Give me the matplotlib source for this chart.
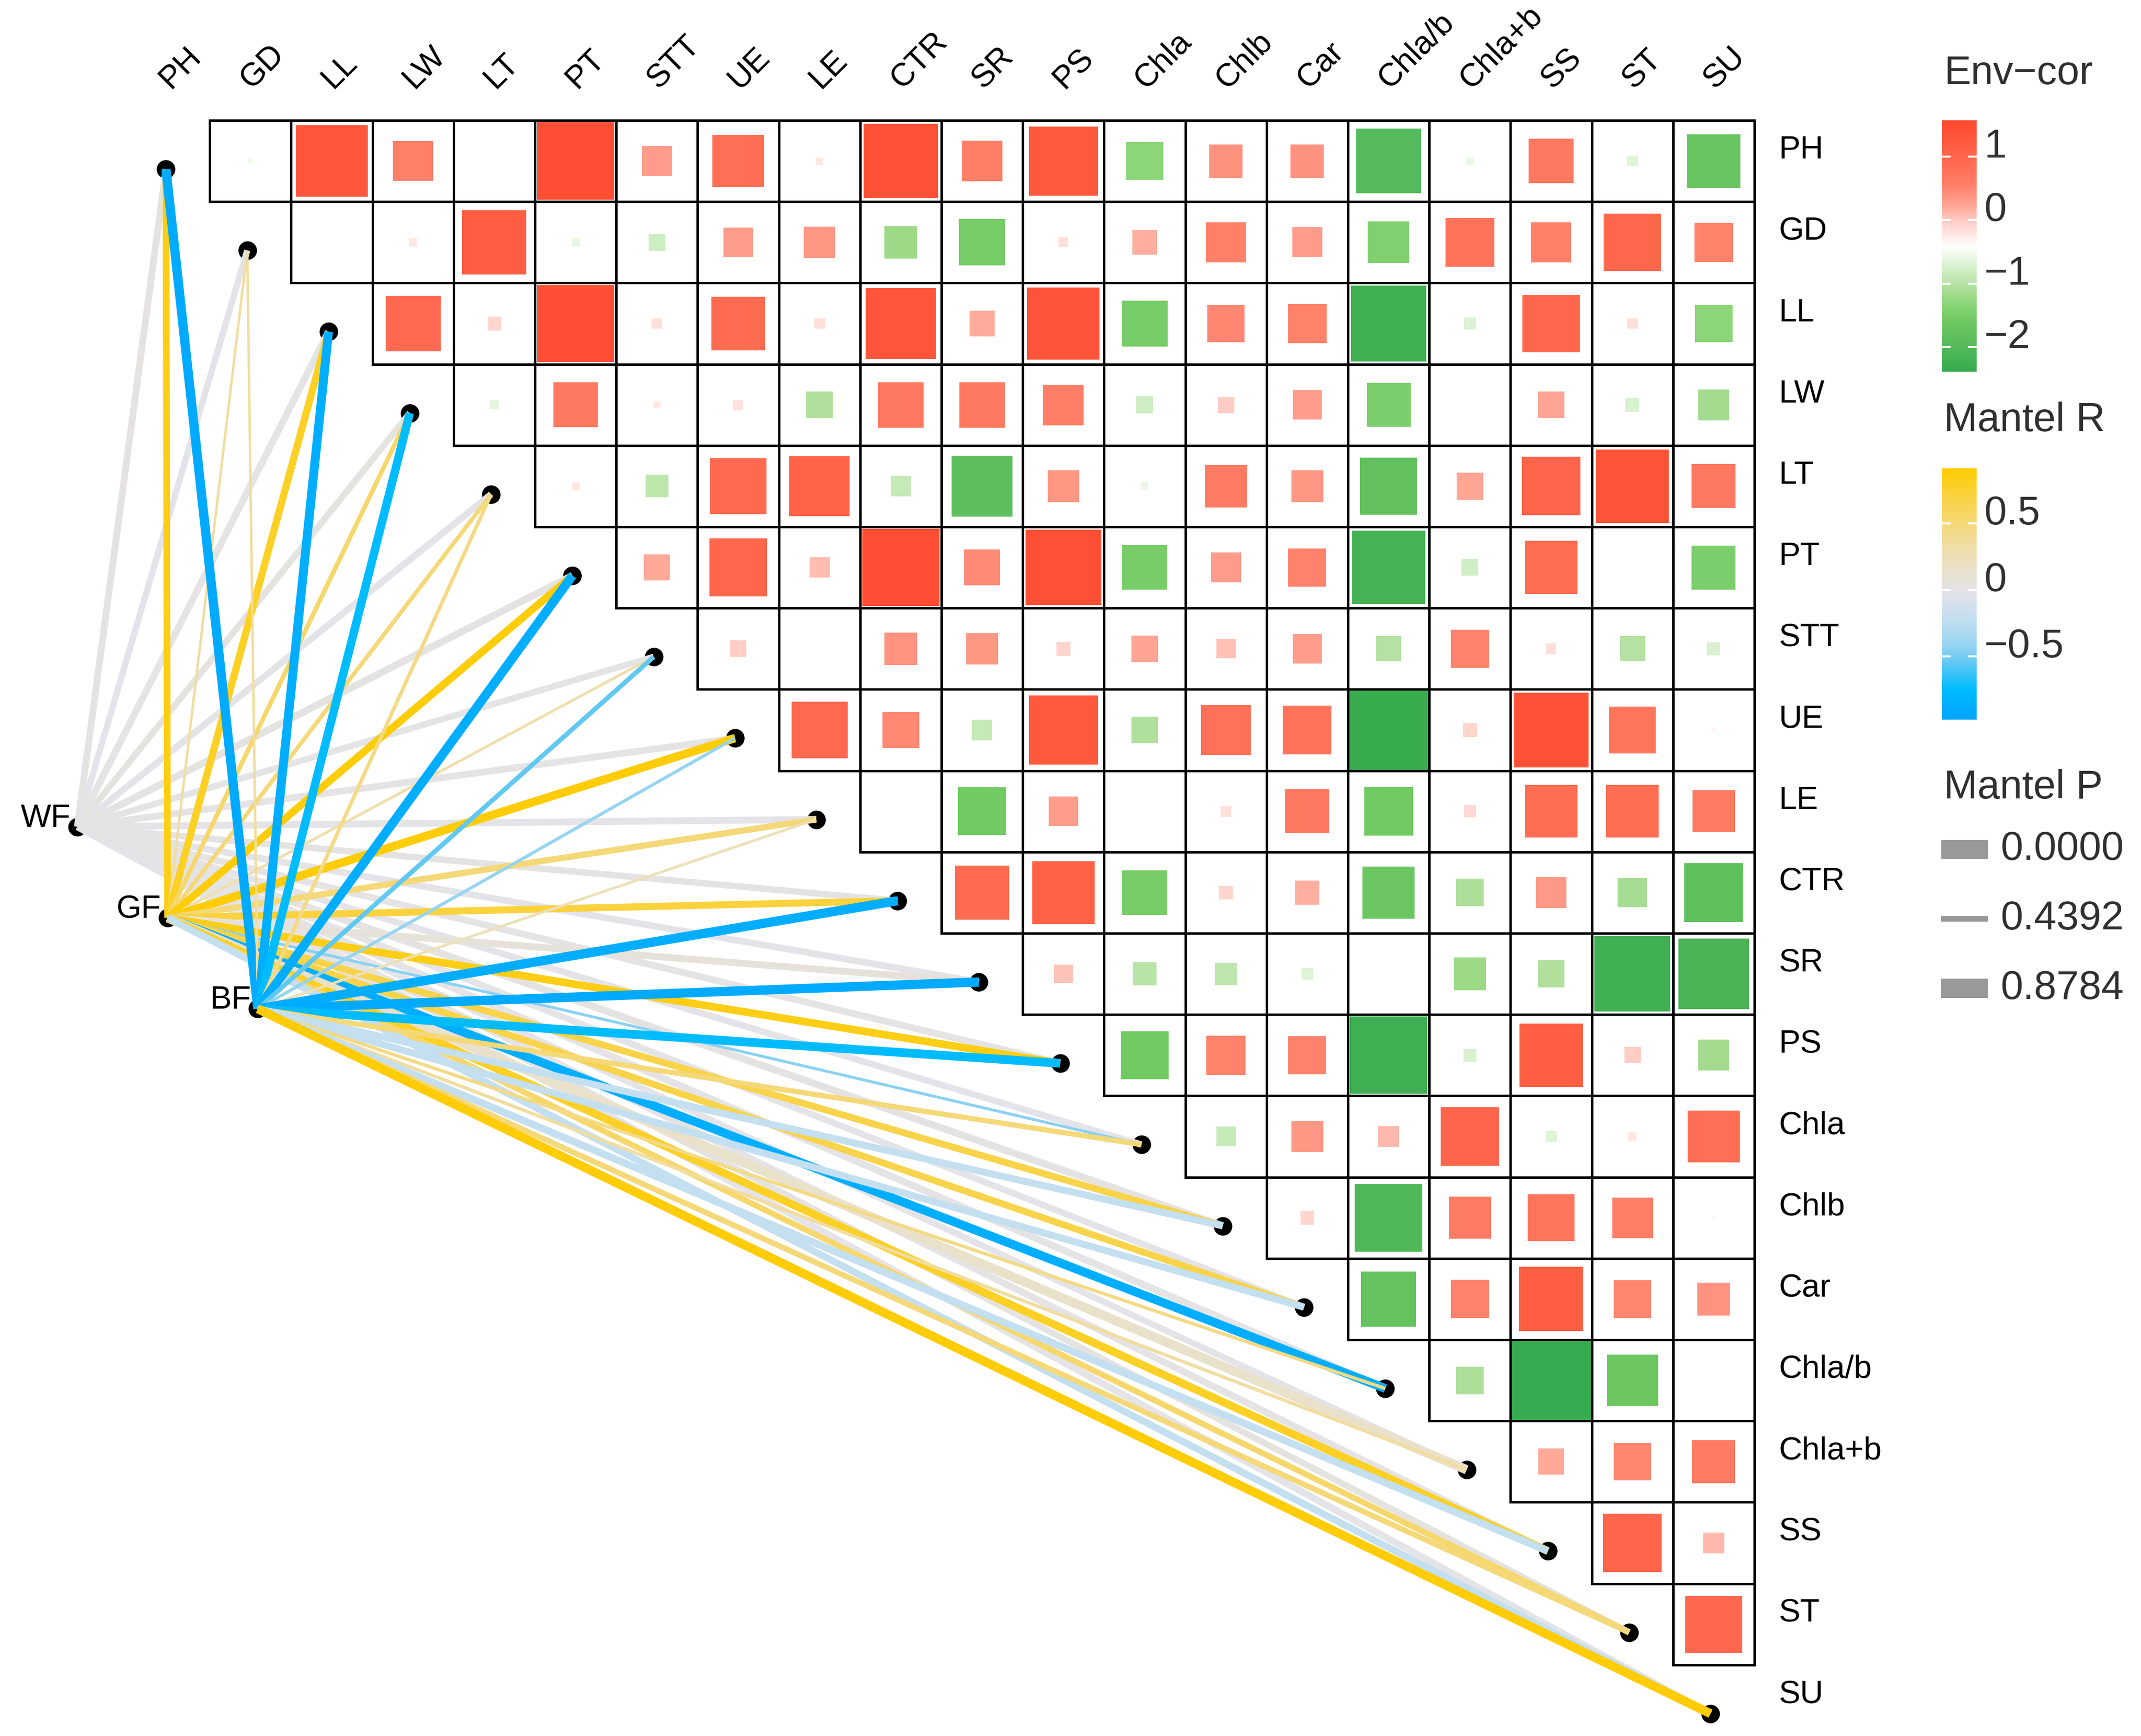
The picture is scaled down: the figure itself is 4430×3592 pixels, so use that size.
import numpy as np
import matplotlib
matplotlib.use("Agg")
import matplotlib.pyplot as plt
from matplotlib.colors import LinearSegmentedColormap, Normalize
from matplotlib.patches import Rectangle
from matplotlib.transforms import offset_copy

plt.rcParams['font.family'] = ['Liberation Sans', 'DejaVu Sans']

# variables
labels = ["PH", "GD", "LL", "LW", "LT", "PT", "STT", "UE", "LE", "CTR",
          "SR", "PS", "Chla", "Chlb", "Car", "Chla/b", "Chla+b", "SS", "ST", "SU"]

# upper triangle: row i holds columns i+1 .. 19
cor_rows = [
    [-0.06, 0.88, 0.49, 0.01, 0.95, 0.37, 0.64, 0.09, 0.92, 0.50, 0.85, -0.46, 0.41, 0.41, -0.80, -0.09, 0.55, -0.13, -0.66],
    [0.00, 0.10, 0.79, -0.10, -0.21, 0.36, 0.39, -0.40, -0.57, 0.12, 0.30, 0.49, 0.37, -0.51, 0.60, 0.49, 0.71, 0.48],
    [0.68, 0.17, 0.95, 0.13, 0.66, 0.13, 0.87, 0.31, 0.89, -0.57, 0.46, 0.48, -0.93, -0.15, 0.71, 0.13, -0.46],
    [-0.11, 0.55, 0.09, 0.12, -0.33, 0.56, 0.56, 0.50, -0.21, 0.20, 0.36, -0.54, 0.01, 0.33, -0.17, -0.38],
    [0.10, -0.28, 0.69, 0.74, -0.25, -0.75, 0.39, -0.09, 0.52, 0.39, -0.70, 0.33, 0.72, 0.90, 0.54],
    [0.32, 0.71, 0.25, 0.95, 0.44, 0.93, -0.55, 0.37, 0.47, -0.90, -0.20, 0.65, 0.00, -0.54],
    [0.20, 0.00, 0.40, 0.39, 0.17, 0.33, 0.24, 0.36, -0.31, 0.47, 0.13, -0.31, -0.16],
    [0.69, 0.45, -0.25, 0.85, -0.33, 0.61, 0.60, -0.98, 0.17, 0.92, 0.58, 0.04],
    [0.00, -0.59, 0.36, 0.01, 0.13, 0.54, -0.60, 0.15, 0.65, 0.65, 0.52],
    [0.67, 0.77, -0.55, 0.17, 0.30, -0.64, -0.34, 0.38, -0.36, -0.73],
    [0.23, -0.29, -0.27, -0.14, 0.00, -0.40, -0.33, -0.93, -0.87],
    [-0.59, 0.48, 0.47, -0.95, -0.16, 0.78, 0.20, -0.38],
    [-0.24, 0.39, 0.26, 0.72, -0.14, 0.10, 0.64],
    [0.17, -0.83, 0.52, 0.58, 0.50, -0.04],
    [-0.68, 0.47, 0.79, 0.46, 0.40],
    [-0.34, -1.00, -0.63, 0.00],
    [0.32, 0.46, 0.53],
    [0.72, 0.26],
    [0.70],
]

# Env-cor colorbar range
env_lo, env_hi = -2.388, 1.567
env_ticks = [1, 0, -1, -2]

sources = ["WF", "GF", "BF"]
wf_r = [0.02, -0.03, 0.01, 0.03, -0.02, 0.02, 0.00, 0.01, -0.01, 0.02,
        -0.02, 0.01, -0.03, 0.02, -0.01, 0.00, -0.02, 0.01, 0.03, -0.01]
wf_p = [0.73, 0.70, 0.74, 0.71, 0.72, 0.75, 0.70, 0.73, 0.74, 0.71,
        0.72, 0.73, 0.71, 0.75, 0.71, 0.74, 0.70, 0.73, 0.71, 0.74]
gf_r = [0.85, 0.35, 0.80, 0.55, 0.50, 0.88, 0.30, 0.90, 0.50, 0.72,
        0.08, 0.85, -0.45, 0.68, 0.68, -0.88, 0.15, 0.80, 0.55, -0.22]
gf_p = [0.15, 0.40, 0.12, 0.28, 0.30, 0.10, 0.38, 0.05, 0.18, 0.13,
        0.74, 0.10, 0.38, 0.15, 0.15, 0.03, 0.8784, 0.08, 0.20, 0.74]
bf_r = [-0.92, 0.35, -0.88, -0.75, 0.45, -0.90, -0.55, -0.42, 0.25, -0.90,
        -0.92, -0.75, 0.50, -0.22, -0.22, 0.45, 0.35, -0.22, 0.50, 0.90]
bf_p = [0.00, 0.40, 0.02, 0.05, 0.33, 0.01, 0.27, 0.36, 0.39, 0.00,
        0.00, 0.03, 0.24, 0.74, 0.74, 0.35, 0.35, 0.76, 0.22, 0.02]

# Mantel R colorbar range, Mantel P legend breaks
mr_lo, mr_hi = -0.976, 0.915
mr_ticks = [0.5, 0, -0.5]
p_breaks = [0.0, 0.4392, 0.8784]

env_cmap = LinearSegmentedColormap.from_list("envcor", [
    (0.00, "#37AB4F"), (0.10, "#55BA5B"), (0.20, "#70C962"), (0.27, "#8CD578"),
    (0.33, "#AEDF9A"), (0.40, "#D0EEC5"), (0.45, "#E8F6E2"), (0.50, "#FFFFFF"),
    (0.55, "#FFE6E2"), (0.60, "#FFCDC5"), (0.66, "#FFA898"), (0.70, "#FF9482"),
    (0.745, "#FF8068"), (0.82, "#FF6E55"), (0.90, "#FF5E42"), (0.975, "#FF4E33"),
    (1.00, "#FF4A2E")])
env_norm = Normalize(-1, 1)

mr_cmap = LinearSegmentedColormap.from_list("mantelr", [
    (0.00, "#00A5FF"), (0.12, "#00BCFF"), (0.225, "#62C8F2"), (0.294, "#96D4F2"),
    (0.40, "#C3DFF0"), (0.50, "#E3E3EA"), (0.569, "#E8E2D5"), (0.675, "#EFDFAE"),
    (0.78, "#F5D878"), (0.886, "#F9D345"), (1.00, "#FFCC00")])
mr_norm = Normalize(mr_lo, mr_hi)


def p_width(p):
    # the legend of Mantel P is thick at both ends, thin in the middle
    return 0.9 + 3.7 * abs(p - 0.4392) / 0.4392


W, H = 4430, 3592
fig = plt.figure(figsize=(W / 300, H / 300), dpi=300)

# grid placement in pixels
x0, y0, cell = 266, 249, 168.2
ax = fig.add_axes([0, 0, 1, 1])
ax.set_xlim(-x0 / cell, (W - x0) / cell)
ax.set_ylim((H - y0) / cell, -y0 / cell)
ax.axis('off')

n = len(labels)

# 相关矩阵 (upper triangle squares)
for i, row in enumerate(cor_rows):
    for k, v in enumerate(row):
        j = i + 1 + k
        s = abs(v)
        if s > 0:
            ax.add_patch(Rectangle((j + 0.5 - s / 2, i + 0.5 - s / 2), s, s,
                                   facecolor=env_cmap(env_norm(v)), edgecolor='none', zorder=1))
        ax.add_patch(Rectangle((j, i), 1, 1, fill=False, edgecolor='black', lw=1.2, zorder=2))

# labels
for j, lab in enumerate(labels):
    ax.text(j + 0.44, -0.45, lab, rotation=45, rotation_mode='anchor',
            ha='left', va='center', fontsize=16, color='black')
    ax.text(20.3, j + 0.37, lab, ha='left', va='center', fontsize=16, color='black')

# nodes on the diagonal
node_x = np.arange(n) + 0.46
node_y = np.arange(n) + 0.60
ax.scatter(node_x, node_y, s=85, color='black', zorder=3, linewidths=0)

# source nodes
src_x = [-0.63, 0.48, 1.59]
src_y = [8.69, 9.81, 10.93]
ax.scatter(src_x, src_y, s=85, color='black', zorder=3, linewidths=0)
for sx, sy, name in zip(src_x, src_y, sources):
    ax.text(sx - 0.08, sy, name, ha='right', va='baseline', fontsize=16, color='black')

# mantel links
for sx, sy, rs, ps in zip(src_x, src_y, [wf_r, gf_r, bf_r], [wf_p, gf_p, bf_p]):
    for t in range(n):
        ax.plot([sx, node_x[t]], [sy, node_y[t]], color=mr_cmap(mr_norm(rs[t])),
                lw=p_width(ps[t]), solid_capstyle='butt', zorder=4)


# legends
def fax(px_left, px_top, px_w, px_h):
    return fig.add_axes([px_left / W, 1 - (px_top + px_h) / H, px_w / W, px_h / H])


txt_col = '#303030'

fig.text(4022 / W, 1 - 174 / H, "Env\u2212cor", ha='left', va='baseline', fontsize=20, color=txt_col)
cb1 = fax(4018, 249, 72, 520)
grad = np.linspace(env_lo, env_hi, 400)[:, None]
cb1.imshow(grad, cmap=env_cmap, norm=Normalize(env_lo, env_hi), origin='lower',
           extent=[0, 1, env_lo, env_hi], aspect='auto')
cb1.set_xlim(0, 1)
cb1.set_ylim(env_lo, env_hi)
cb1.axis('off')
lab_tr1 = offset_copy(cb1.transData, fig=fig, y=20, units='dots')
for t in env_ticks:
    cb1.plot([0, 0.22], [t, t], color='white', lw=1.0)
    cb1.plot([0.78, 1], [t, t], color='white', lw=1.0)
    cb1.text(1.22, t, f"{t}".replace('-', '\u2212'), ha='left', va='center',
             fontsize=20, color=txt_col, clip_on=False, transform=lab_tr1)

fig.text(4022 / W, 1 - 892 / H, "Mantel R", ha='left', va='baseline', fontsize=20, color=txt_col)
cb2 = fax(4018, 969, 72, 520)
grad2 = np.linspace(mr_lo, mr_hi, 400)[:, None]
cb2.imshow(grad2, cmap=mr_cmap, norm=mr_norm, origin='lower',
           extent=[0, 1, mr_lo, mr_hi], aspect='auto')
cb2.set_xlim(0, 1)
cb2.set_ylim(mr_lo, mr_hi)
cb2.axis('off')
lab_tr2 = offset_copy(cb2.transData, fig=fig, y=20, units='dots')
for t in mr_ticks:
    cb2.plot([0, 0.22], [t, t], color='white', lw=1.0)
    cb2.plot([0.78, 1], [t, t], color='white', lw=1.0)
    cb2.text(1.22, t, f"{t:g}".replace('-', '\u2212'), ha='left', va='center',
             fontsize=20, color=txt_col, clip_on=False, transform=lab_tr2)

fig.text(4022 / W, 1 - 1652 / H, "Mantel P", ha='left', va='baseline', fontsize=20, color=txt_col)
key_y = [1757, 1901, 2045]
key_w = [9.4, 2.9, 9.6]
for p, ky, kw in zip(p_breaks, key_y, key_w):
    fig.add_artist(plt.Line2D([4016 / W, 4113 / W], [1 - ky / H, 1 - ky / H],
                              color='#999999', lw=kw, solid_capstyle='butt'))
    fig.text(4140 / W, 1 - ky / H, f"{p:.4f}", ha='left', va='center', fontsize=20, color=txt_col)

fig.savefig("out.png", dpi=300)
